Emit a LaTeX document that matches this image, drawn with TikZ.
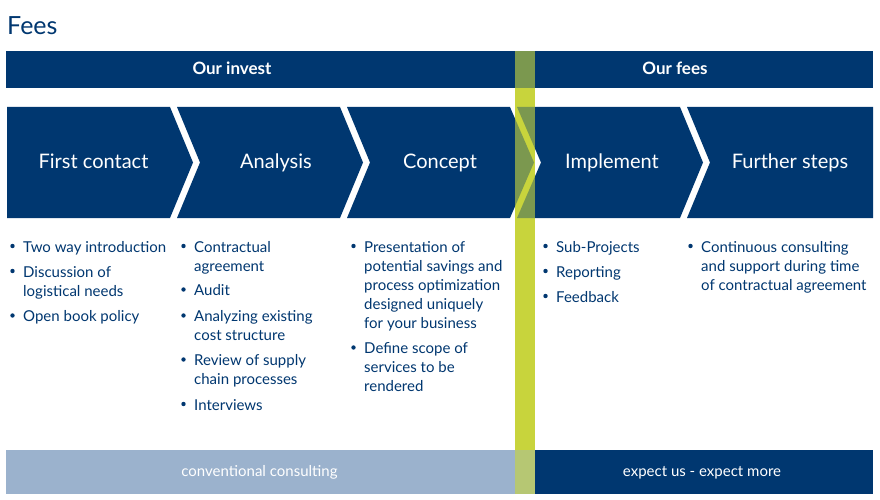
\documentclass[tikz,border=0pt]{standalone}
\usepackage{fontspec}
\setmainfont{Lato}
\usetikzlibrary{calc}
\definecolor{navy}{HTML}{003770}
\definecolor{paleblue}{HTML}{9BB2CD}
\definecolor{lime}{HTML}{C8D43C}
\tikzset{
  band/.style={fill=navy, draw=none},
  chevlabel/.style={text=white, anchor=base, inner sep=0, font=\fontsize{20}{24}\selectfont},
  headlabel/.style={text=white, anchor=base, inner sep=0, font=\fontsize{17}{20}\selectfont\bfseries},
  footlabel/.style={text=white, anchor=base, inner sep=0, font=\fontsize{15}{18}\selectfont},
  item/.style={text=navy, anchor=north west, inner sep=0, align=left, font=\fontsize{15}{19}\selectfont},
}
\newcommand{\bul}[1]{\fill[navy] ($(#1.north west)+(-10.5,7.3)$) circle (2.2);}
\begin{document}
\begin{tikzpicture}[x=1pt,y=-1pt]
\useasboundingbox[fill=white] (0,0) rectangle (880,500);
% title
\node[text=navy, anchor=base west, inner sep=0, font=\fontsize{25}{30}\selectfont] (title) at (7,35) {Fees};
% lime stripe (full)
\fill[lime] (515,51) rectangle (535,494);
% header band
\fill[band] (6,51) rectangle (873,88);
% chevrons
\fill[band] (7,107) -- (170,107) -- (193,162.5) -- (170,218) -- (7,218) -- cycle;
\fill[band] (177,107) -- (340,107) -- (363,162.5) -- (340,218) -- (177,218) -- (200,162.5) -- cycle;
\fill[band] (347,107) -- (510,107) -- (534,162.5) -- (510,218) -- (347,218) -- (370,162.5) -- cycle;
\fill[band] (517,107) -- (680,107) -- (703,162.5) -- (680,218) -- (517,218) -- (541,162.5) -- cycle;
\fill[band] (687,107) -- (873,107) -- (873,218) -- (687,218) -- (710,162.5) -- cycle;
% footer
\fill[paleblue] (6,450) rectangle (535,494);
\fill[navy] (535,450) rectangle (873,494);
% translucent stripe over everything
\fill[lime, opacity=0.62] (515,51) rectangle (535,494);
% header labels
\node[headlabel] (h1) at (232,75) {Our invest};
\node[headlabel] (h2) at (675,75) {Our fees};
% chevron labels
\node[chevlabel] (k1) at (93.5,168) {First contact};
\node[chevlabel] (k2) at (276,168) {Analysis};
\node[chevlabel] (k3) at (440,168) {Concept};
\node[chevlabel] (k4) at (612,168) {Implement};
\node[chevlabel] (k5) at (790,168) {Further steps};
% items
\node[item] (a1) at (23,238.7) {\strut Two way introduction};
\node[item] (a2) at (23,263.7) {\strut Discussion of\\logistical needs};
\node[item] (a3) at (23,308.2) {\strut Open book policy};
\node[item] (b1) at (194,238.7) {\strut Contractual\\agreement};
\node[item] (b2) at (194,282.2) {\strut Audit};
\node[item] (b3) at (194,308.2) {\strut Analyzing existing\\cost structure};
\node[item] (b4) at (194,352.2) {\strut Review of supply\\chain processes};
\node[item] (b5) at (194,396.7) {\strut Interviews};
\node[item] (c1) at (364,238.7) {\strut Presentation of\\potential savings and\\process optimization\\designed uniquely\\for your business};
\node[item] (c2) at (364,340.2) {\strut Define scope of\\services to be\\rendered};
\node[item] (d1) at (556,238.7) {\strut Sub-Projects};
\node[item] (d2) at (556,263.7) {\strut Reporting};
\node[item] (d3) at (556,288.7) {\strut Feedback};
\node[item] (e1) at (701,238.7) {\strut Continuous consulting\\and support during time\\of contractual agreement};
\foreach \n in {a1,a2,a3,b1,b2,b3,b4,b5,c1,c2,d1,d2,d3,e1} {\bul{\n}}
% footer labels
\node[footlabel] (f1) at (259.5,476) {conventional consulting};
\node[footlabel] (f2) at (702,476) {expect us - expect more};
\end{tikzpicture}
\end{document}
